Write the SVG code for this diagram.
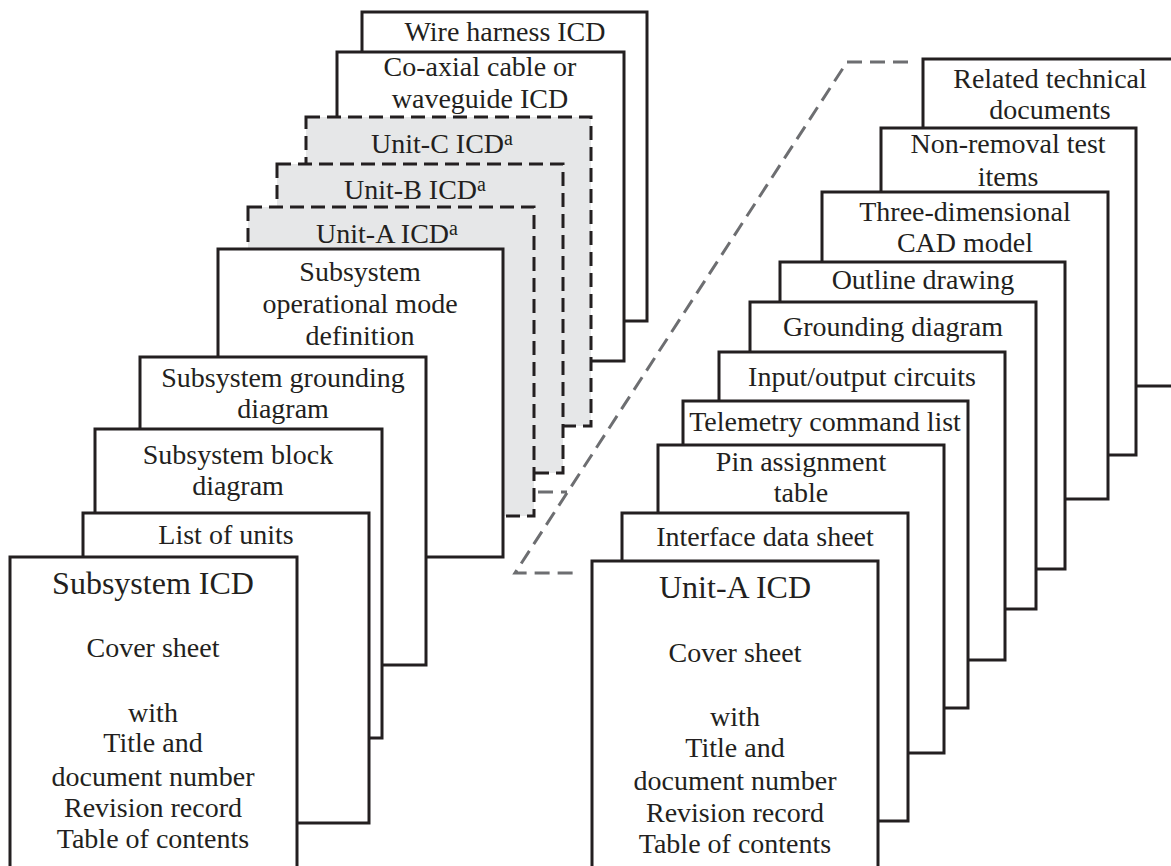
<svg xmlns="http://www.w3.org/2000/svg" width="1171" height="866" viewBox="0 0 1171 866">
<defs>
<style>
.b{fill:#fff;stroke:#231f20;stroke-width:3}
.d{fill:#e6e7e8;stroke:#231f20;stroke-width:3;stroke-dasharray:14 7}
text{font-family:"Liberation Serif","Times New Roman",serif;font-size:28px;fill:#231f20;text-anchor:middle}
.t{font-size:32px}
.sup{font-size:20px}
.c{fill:none;stroke:#6d6e71;stroke-width:3;stroke-dasharray:15 8}
</style>
</defs>
<rect width="1171" height="866" fill="#fff"/>
<g id="left-stack">
<g id="wire-harness"><rect class="b" x="362" y="12" width="285" height="309"/><text x="505" y="41">Wire harness ICD</text></g>
<g id="coaxial"><rect class="b" x="337" y="52" width="287" height="309"/><text x="480" y="76">Co-axial cable or</text><text x="480" y="108">waveguide ICD</text></g>
<g id="unit-c"><rect class="d" x="306" y="117" width="285" height="309"/><text x="442" y="153">Unit-C ICD<tspan class="sup" dy="-8">a</tspan></text></g>
<g id="unit-b"><rect class="d" x="277" y="164" width="286" height="309"/><text x="415" y="199">Unit-B ICD<tspan class="sup" dy="-8">a</tspan></text></g>
<g id="unit-a"><rect class="d" x="248" y="207" width="286" height="309"/><text x="387" y="243">Unit-A ICD<tspan class="sup" dy="-8">a</tspan></text></g>
<g id="sub-opmode"><rect class="b" x="218" y="249" width="285" height="308"/><text x="360" y="281">Subsystem</text><text x="360" y="313">operational mode</text><text x="360" y="345">definition</text></g>
<g id="sub-grounding"><rect class="b" x="140" y="357" width="286" height="308"/><text x="283" y="387">Subsystem grounding</text><text x="283" y="418">diagram</text></g>
<g id="sub-block"><rect class="b" x="95" y="429" width="287" height="309"/><text x="238" y="464">Subsystem block</text><text x="238" y="495">diagram</text></g>
<g id="list-units"><rect class="b" x="83" y="513" width="286" height="310"/><text x="226" y="544">List of units</text></g>
<g id="subsystem-icd"><rect class="b" x="10" y="557" width="287" height="312"/><text class="t" x="153" y="594">Subsystem ICD</text><text x="153" y="657">Cover sheet</text><text x="153" y="722">with</text><text x="153" y="752">Title and</text><text x="153" y="786">document number</text><text x="153" y="817">Revision record</text><text x="153" y="848">Table of contents</text></g>
</g>
<g id="right-stack">
<g id="related"><rect class="b" x="923" y="59" width="280" height="327"/><text x="1050" y="88">Related technical</text><text x="1050" y="119">documents</text></g>
<g id="non-removal"><rect class="b" x="881" y="128" width="255" height="327"/><text x="1008" y="153">Non-removal test</text><text x="1008" y="186">items</text></g>
<g id="three-dim"><rect class="b" x="822" y="192" width="286" height="307"/><text x="965" y="221">Three-dimensional</text><text x="965" y="252">CAD model</text></g>
<g id="outline"><rect class="b" x="780" y="262" width="285" height="307"/><text x="923" y="289">Outline drawing</text></g>
<g id="grounding"><rect class="b" x="750" y="302" width="286" height="307"/><text x="893" y="336">Grounding diagram</text></g>
<g id="io-circuits"><rect class="b" x="719" y="352" width="286" height="308"/><text x="862" y="386">Input/output circuits</text></g>
<g id="telemetry"><rect class="b" x="683" y="401" width="285" height="307"/><text x="825" y="431">Telemetry command list</text></g>
<g id="pin"><rect class="b" x="658" y="445" width="286" height="308"/><text x="801" y="471">Pin assignment</text><text x="801" y="502">table</text></g>
<g id="interface"><rect class="b" x="622" y="513" width="286" height="308"/><text x="765" y="546">Interface data sheet</text></g>
<g id="unit-a-icd"><rect class="b" x="592" y="561" width="286" height="310"/><text class="t" x="735" y="598">Unit-A ICD</text><text x="735" y="662">Cover sheet</text><text x="735" y="726">with</text><text x="735" y="757">Title and</text><text x="735" y="790">document number</text><text x="735" y="822">Revision record</text><text x="735" y="853">Table of contents</text></g>
</g>
<g id="connectors">
<polyline class="c" points="908,62 847,62 515,573 579,573"/>
<line class="c" x1="538" y1="492" x2="567" y2="492" stroke-dasharray="14 5"/>
</g>
</svg>
